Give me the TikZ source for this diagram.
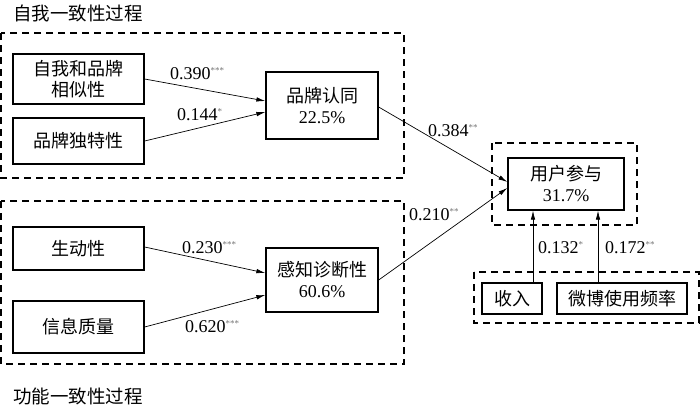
\documentclass[tikz,border=0pt]{standalone}
\usepackage{fontspec}
\setmainfont{Liberation Serif}
\newfontfamily\cjk{Noto Sans CJK SC}
\usetikzlibrary{calc,arrows.meta}
\begin{document}
\begin{tikzpicture}[x=1pt,y=-1pt,
  box/.style={draw,line width=1.3pt,minimum width=#1,inner sep=0pt,align=center,
    font=\fontsize{18}{21}\selectfont\cjk},
  grp/.style={draw,line width=1.3pt,dash pattern=on 7pt off 5pt},
  arr/.style={line width=0.7pt,-{Latex[length=9pt,width=4.5pt]}},
  lab/.style={anchor=west,inner sep=0pt,font=\fontsize{18}{21}\selectfont},
  ttl/.style={anchor=west,inner sep=0pt,font=\fontsize{18.5}{21}\selectfont\cjk}]
\newcommand{\st}[1]{\textsuperscript{\textcolor{black!55}{\fontsize{9}{9}\selectfont #1}}}
\useasboundingbox (0,0) rectangle (700,405);
% group frames
\draw[grp] (1,33) rectangle (404,178);
\draw[grp] (1,201) rectangle (404,364);
\draw[grp] (492,143) rectangle (637,225);
\draw[grp] (474,272) rectangle (699,323);
% titles
\node[ttl] (t1) at (13,13) {自我一致性过程};
\node[ttl] (t2) at (13,396) {功能一致性过程};
% nodes
\node[box=131pt,minimum height=50pt] (A) at (78.5,79) {自我和品牌\\相似性};
\node[box=131pt,minimum height=46pt] (B) at (78.5,141) {品牌独特性};
\node[box=112pt,minimum height=67pt] (C) at (322,105.5) {品牌认同\\{\rmfamily 22.5\%}};
\node[box=131pt,minimum height=43pt] (D) at (78.5,248.5) {生动性};
\node[box=131pt,minimum height=52pt] (E) at (78.5,327) {信息质量};
\node[box=112pt,minimum height=64pt] (F) at (322,280) {感知诊断性\\{\rmfamily 60.6\%}};
\node[box=116pt,minimum height=52pt] (G) at (566,184) {用户参与\\{\rmfamily 31.7\%}};
\node[box=60pt,minimum height=31pt] (H) at (512,298.5) {收入};
\node[box=130pt,minimum height=31pt] (I) at (622,298.5) {微博使用频率};
% connectors
\draw[arr] (A.east) -- ($(C.west)+(0,-4.5)$);
\draw[arr] (B.east) -- ($(C.west)+(0,6.5)$);
\draw[arr] ($(D.east)+(0,-1.5)$) -- ($(F.west)+(0,-7)$);
\draw[arr] (E.east) -- ($(F.west)+(0,15)$);
\draw[arr] ($(C.east)+(0,1.5)$) -- ($(G.west)+(0,-2)$);
\draw[arr] (F.east) -- ($(G.west)+(0,4)$);
\coordinate (h1) at ($(H.north)+(21,0)$);
\coordinate (i1) at ($(I.north)+(-24,0)$);
\draw[arr] (h1) -- (h1 |- G.south);
\draw[arr] (i1) -- (i1 |- G.south);
% labels
\node[lab] (l1) at (170,74) {0.390\st{***}};
\node[lab] (l2) at (177,115) {0.144\st{*}};
\node[lab] (l3) at (182,248) {0.230\st{***}};
\node[lab] (l4) at (185,327) {0.620\st{***}};
\node[lab] (l5) at (428,131) {0.384\st{**}};
\node[lab] (l6) at (409,215) {0.210\st{**}};
\node[lab] (l7) at (538,248) {0.132\st{*}};
\node[lab] (l8) at (605,248) {0.172\st{**}};
\end{tikzpicture}
\end{document}
